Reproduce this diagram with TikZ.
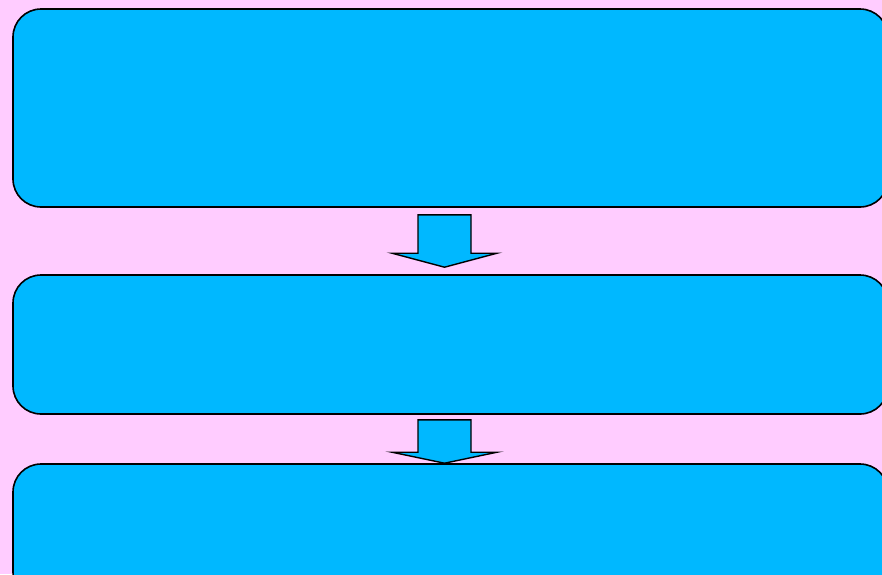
\documentclass[tikz,border=0pt]{standalone}
\usepackage{tikz}
\usetikzlibrary{positioning, calc}
\definecolor{bgpink}{RGB}{255,204,255}
\definecolor{boxblue}{RGB}{0,184,255}

\tikzset{
  stagebox/.style={draw=black, fill=boxblue, line width=1.6pt, rounded corners=28pt,
    minimum width=875pt, inner sep=0pt},
  downarrow/.style={draw=black, fill=boxblue, line width=1.4pt, line join=miter}
}

% block arrow from #1 (middle of the shaft top) down to #2 (tip), #3 = head length
\newcommand{\flowarrow}[3]{%
  \path[downarrow] let \p1=(#1), \p2=(#2) in
    (\x1-26.5pt,\y1) -- (\x1+26.5pt,\y1) -- (\x1+26.5pt,\y2+#3) -- (\x1+52.5pt,\y2+#3)
    -- (\x2,\y2) -- (\x1-52.5pt,\y2+#3) -- (\x1-26.5pt,\y2+#3) -- cycle;}

\begin{document}
\begin{tikzpicture}[x=1pt, y=1pt]
\useasboundingbox (0,0) rectangle (882,-574);
\clip (0,0) rectangle (882,-574);
\fill[bgpink] (0,0) rectangle (882,-574);

% three stages
\node[stagebox, minimum height=198pt] (stage1) at (450.5,-108) {};
\node[stagebox, minimum height=139pt] (stage2) at (450.5,-344.5) {};
\node[stagebox, minimum height=136pt] (stage3) at (450.5,-532) {};

% arrows between the stages
\coordinate (top1) at ($(stage1.south)+(-6,-7)$);
\coordinate (tip1) at ($(stage2.north)+(-6,7)$);
\flowarrow{top1}{tip1}{14pt}

\coordinate (top2) at ($(stage2.south)+(-6,-5)$);
\coordinate (tip2) at ($(stage3.north)+(-6,0)$);
\flowarrow{top2}{tip2}{11pt}
\end{tikzpicture}
\end{document}
